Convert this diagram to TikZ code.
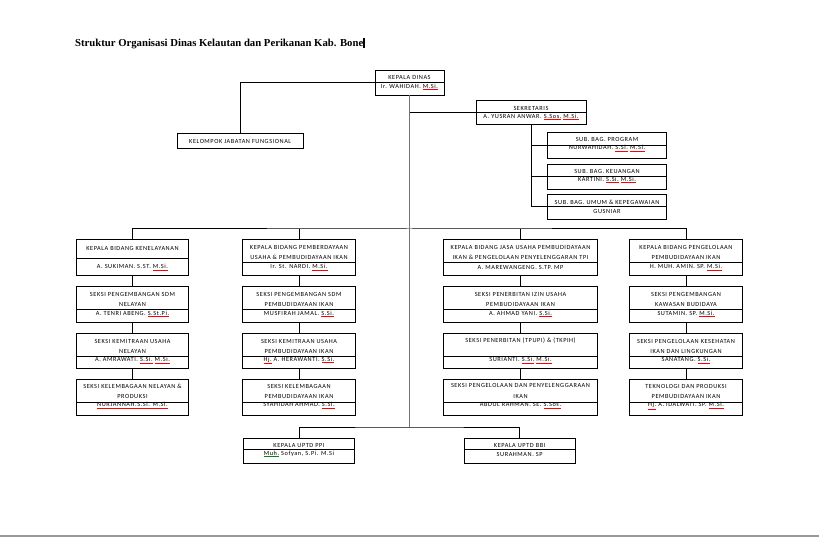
\documentclass[tikz,border=0pt]{standalone}
\usepackage{fontspec}
\usepackage{tikz}
\setmainfont{Liberation Serif}
\newfontfamily\boxfamily[LetterSpace=9]{Carlito}
\newcommand{\boxfont}{\boxfamily\fontsize{6.3}{10.5}\selectfont}
\newcommand{\spl}[2][red]{\textcolor{#1}{\underline{\textcolor{black}{#2}}}}

\begin{document}
\begin{tikzpicture}[x=1pt, y=-1pt,
  box/.style={draw, line width=1pt, inner sep=0pt, outer sep=0pt, anchor=north west},
  txt/.style={font=\boxfont, align=center, inner sep=0pt},
  link/.style={line width=1pt},
  trunk/.style={line width=1pt, draw=black!55}]

  \useasboundingbox (0,0) rectangle (819,537);
  \fill[black!40] (0,534.5) rectangle (819,537);

  % Title
  \node[anchor=base west, inner sep=0pt, font=\bfseries\fontsize{10.7}{13}\selectfont] (title) at (75,47)
    {Struktur Organisasi Dinas Kelautan dan Perikanan Kab. Bone\rule[-1.5pt]{1.3pt}{10pt}};

  % Kepala dinas, kelompok and sekretaris
  \node[box, minimum width=69pt, minimum height=24.6pt] (kd) at (375,70.7) {};
  \node[txt] (kdt) at (kd.north |- 0,77.3) {KEPALA DINAS};
  \node[txt] (kdn) at (kd.north |- 0,87) {Ir. WAHIDAH. \spl{M.Si.}};
  \draw[link] (kd.west |- 0,82.3) -- (kd.east |- 0,82.3);

  \node[box, minimum width=126.3pt, minimum height=15.7pt] (kjf) at (177,133.3) {};
  \node[txt] (kjft) at (kjf.center) {KELOMPOK JABATAN FUNGSIONAL};

  \node[box, minimum width=110pt, minimum height=24.3pt] (sek) at (476,100.7) {};
  \node[txt] (sekt) at (sek.north |- 0,108.3) {SEKRETARIS};
  \node[txt] (sekn) at (sek.north |- 0,117) {A. YUSRAN ANWAR. \spl{S.Sos.} \spl{M.Si.}};
  \draw[link] (sek.west |- 0,112.5) -- (sek.east |- 0,112.5);

  % Sub bagian
  \node[box, minimum width=119.4pt, minimum height=25.6pt] (sb1) at (547.3,132.7) {};
  \node[txt] (sb1t) at (sb1.north |- 0,139.3) {SUB. BAG. PROGRAM};
  \node[txt] (sb1n) at (sb1.north |- 0,148.3) {NURWAHIDAH. \spl{S.Si.} \spl{M.Si.}};
  \draw[link] (sb1.west |- 0,145.7) -- (sb1.east |- 0,145.7);

  \node[box, minimum width=119.4pt, minimum height=25pt] (sb2) at (547.3,164.3) {};
  \node[txt] (sb2t) at (sb2.north |- 0,171.7) {SUB. BAG. KEUANGAN};
  \node[txt] (sb2n) at (sb2.north |- 0,180) {KARTINI. \spl{S.Si.} \spl{M.Si.}};
  \draw[link] (sb2.west |- 0,176.3) -- (sb2.east |- 0,176.3);

  \node[box, minimum width=119.4pt, minimum height=25.2pt] (sb3) at (547.3,194.3) {};
  \node[txt] (sb3t) at (sb3.north |- 0,202.7) {SUB. BAG. UMUM \& KEPEGAWAIAN};
  \node[txt] (sb3n) at (sb3.north |- 0,211.7) {GUSNIAR};
  \draw[link] (sb3.west |- 0,206.7) -- (sb3.east |- 0,206.7);

  % Bidang kenelayanan
  \node[box, minimum width=112pt, minimum height=35.5pt] (a1) at (76.5,240) {};
  \node[txt] (a1t) at (a1.north |- 0,248.3) {KEPALA BIDANG KENELAYANAN};
  \node[txt] (a1n) at (a1.north |- 0,267.7) {A. SUKIMAN. S.ST. \spl{M.Si.}};
  \draw[link] (a1.west |- 0,259) -- (a1.east |- 0,259);

  \node[box, minimum width=112pt, minimum height=35pt] (a2) at (76.5,287) {};
  \node[txt] (a2t) at (a2.north |- 0,299.5) {SEKSI PENGEMBANGAN SDM\\NELAYAN};
  \node[txt] (a2n) at (a2.north |- 0,314) {A. TENRI ABENG. \spl{S.St.Pi.}};
  \draw[link] (a2.west |- 0,309.5) -- (a2.east |- 0,309.5);

  \node[box, minimum width=112pt, minimum height=35.2pt] (a3) at (76.5,333.3) {};
  \node[txt] (a3t) at (a3.north |- 0,346.3) {SEKSI KEMITRAAN USAHA\\NELAYAN};
  \node[txt] (a3n) at (a3.north |- 0,360.5) {A. AMRAWATI. \spl{S.Si.} \spl{M.Si.}};
  \draw[link] (a3.west |- 0,356) -- (a3.east |- 0,356);

  \node[box, minimum width=112pt, minimum height=36pt] (a4) at (76.5,379) {};
  \node[txt] (a4t) at (a4.north |- 0,391.3) {SEKSI KELEMBAGAAN NELAYAN \&\\PRODUKSI};
  \node[txt] (a4n) at (a4.north |- 0,405.7) {\spl{NURJANNAH.S.Si. M.Si.}};
  \draw[link] (a4.west |- 0,402.7) -- (a4.east |- 0,402.7);

  % Bidang pemberdayaan usaha
  \node[box, minimum width=113.4pt, minimum height=35.5pt] (b1) at (242.3,240) {};
  \node[txt] (b1t) at (b1.north |- 0,252.3) {KEPALA BIDANG PEMBERDAYAAN\\USAHA \& PEMBUDIDAYAAN IKAN};
  \node[txt] (b1n) at (b1.north |- 0,267.3) {Ir. St. NARDI. \spl{M.Si.}};
  \draw[link] (b1.west |- 0,262.3) -- (b1.east |- 0,262.3);

  \node[box, minimum width=113.4pt, minimum height=35pt] (b2) at (242.3,287) {};
  \node[txt] (b2t) at (b2.north |- 0,299.5) {SEKSI PENGEMBANGAN SDM\\PEMBUDIDAYAAN IKAN};
  \node[txt] (b2n) at (b2.north |- 0,314) {MUSFIRAH JAMAL. \spl{S.Si.}};
  \draw[link] (b2.west |- 0,309.5) -- (b2.east |- 0,309.5);

  \node[box, minimum width=113.4pt, minimum height=35.2pt] (b3) at (242.3,333.3) {};
  \node[txt] (b3t) at (b3.north |- 0,346.3) {SEKSI KEMITRAAN USAHA\\PEMBUDIDAYAAN IKAN};
  \node[txt] (b3n) at (b3.north |- 0,360.5) {\spl{Hj.} A. HERAWANTI. \spl{S.Si.}};
  \draw[link] (b3.west |- 0,356) -- (b3.east |- 0,356);

  \node[box, minimum width=113.4pt, minimum height=36pt] (b4) at (242.3,379) {};
  \node[txt] (b4t) at (b4.north |- 0,391.3) {SEKSI KELEMBAGAAN\\PEMBUDIDAYAAN IKAN};
  \node[txt] (b4n) at (b4.north |- 0,405.7) {SYAHIDAH AHMAD. \spl{S.Si.}};
  \draw[link] (b4.west |- 0,402.7) -- (b4.east |- 0,402.7);

  % Bidang jasa usaha
  \node[box, minimum width=154pt, minimum height=35.5pt] (c1) at (443.5,240) {};
  \node[txt] (c1t) at (c1.north |- 0,252.3) {KEPALA BIDANG JASA USAHA PEMBUDIDAYAAN\\IKAN \& PENGELOLAAN PENYELENGGARAN TPI};
  \node[txt] (c1n) at (c1.north |- 0,267.3) {A. MAREWANGENG. S.TP. MP};
  \draw[link] (c1.west |- 0,262.3) -- (c1.east |- 0,262.3);

  \node[box, minimum width=154pt, minimum height=35pt] (c2) at (443.5,287) {};
  \node[txt] (c2t) at (c2.north |- 0,299.5) {SEKSI PENERBITAN IZIN USAHA\\PEMBUDIDAYAAN IKAN};
  \node[txt] (c2n) at (c2.north |- 0,314) {A. AHMAD YANI. \spl{S.Si.}};
  \draw[link] (c2.west |- 0,309) -- (c2.east |- 0,309);

  \node[box, minimum width=154pt, minimum height=35.2pt] (c3) at (443.5,333.3) {};
  \node[txt] (c3t) at (c3.north |- 0,341) {SEKSI PENERBITAN (TPUPI) \& (TKPIH)};
  \node[txt] (c3n) at (c3.north |- 0,360.5) {SURIANTI. \spl{S.Si.} \spl{M.Si.}};
  \draw[link] (c3.west |- 0,356.5) -- (c3.east |- 0,356.5);

  \node[box, minimum width=154pt, minimum height=36pt] (c4) at (443.5,379) {};
  \node[txt] (c4t) at (c4.north |- 0,391) {SEKSI PENGELOLAAN DAN PENYELENGGARAAN\\IKAN};
  \node[txt] (c4n) at (c4.north |- 0,405.7) {ABDUL RAHMAN. SE. \spl{S.Sos.}};
  \draw[link] (c4.west |- 0,402.3) -- (c4.east |- 0,402.3);

  % Bidang pengelolaan pembudidayaan
  \node[box, minimum width=113.4pt, minimum height=35.5pt] (d1) at (629.3,240) {};
  \node[txt] (d1t) at (d1.north |- 0,252.3) {KEPALA BIDANG PENGELOLAAN\\PEMBUDIDAYAAN IKAN};
  \node[txt] (d1n) at (d1.north |- 0,267.3) {H. MUH. AMIN. SP. \spl{M.Si.}};
  \draw[link] (d1.west |- 0,262.3) -- (d1.east |- 0,262.3);

  \node[box, minimum width=113.4pt, minimum height=35pt] (d2) at (629.3,287) {};
  \node[txt] (d2t) at (d2.north |- 0,299.5) {SEKSI PENGEMBANGAN\\KAWASAN BUDIDAYA};
  \node[txt] (d2n) at (d2.north |- 0,314) {SUTAMIN. SP. \spl{M.Si.}};
  \draw[link] (d2.west |- 0,309) -- (d2.east |- 0,309);

  \node[box, minimum width=113.4pt, minimum height=35.2pt] (d3) at (629.3,333.3) {};
  \node[txt] (d3t) at (d3.north |- 0,346.3) {SEKSI PENGELOLAAN KESEHATAN\\IKAN DAN LINGKUNGAN};
  \node[txt] (d3n) at (d3.north |- 0,360.5) {SANATANG. \spl{S.Si.}};
  \draw[link] (d3.west |- 0,356) -- (d3.east |- 0,356);

  \node[box, minimum width=113.4pt, minimum height=36pt] (d4) at (629.3,379) {};
  \node[txt] (d4t) at (d4.north |- 0,391.3) {TEKNOLOGI DAN PRODUKSI\\PEMBUDIDAYAAN IKAN};
  \node[txt] (d4n) at (d4.north |- 0,405.7) {\spl{Hj.} A. IDALWATI. SP. \spl{M.Si.}};
  \draw[link] (d4.west |- 0,402.7) -- (d4.east |- 0,402.7);

  % UPTD
  \node[box, minimum width=111.4pt, minimum height=25pt] (ppi) at (243.3,438.3) {};
  \node[txt] (ppit) at (ppi.north |- 0,445) {KEPALA UPTD PPI};
  \node[txt] (ppin) at (ppi.north |- 0,454) {\spl[green!55!black]{Muh.} Sofyan, S.Pi. M.Si};
  \draw[link] (ppi.west |- 0,449.7) -- (ppi.east |- 0,449.7);

  \node[box, minimum width=110.7pt, minimum height=25pt] (bbi) at (464.3,438.3) {};
  \node[txt] (bbit) at (bbi.north |- 0,445) {KEPALA UPTD BBI};
  \node[txt] (bbin) at (bbi.north |- 0,454) {SURAHMAN. SP};
  \draw[link] (bbi.west |- 0,449.7) -- (bbi.east |- 0,449.7);

  % Junctions on the trunk
  \coordinate (mid) at (kd.south |- 0,229);
  \coordinate (bot) at (kd.south |- 0,427);

  % Connectors
  \draw[link] (kd.west) -| (kjf.north);
  \draw[link] (sek.west) -- (sek.west -| kd.south);
  \draw[link] (sek.south) |- (sb3.west);
  \draw[link] (sb1.west) -- (sb1.west -| sek.south);
  \draw[link] (sb2.west) -- (sb2.west -| sek.south);

  \draw[link] (a1.north) |- (mid) -| (d1.north);
  \draw[link] (b1.north) -- (b1.north |- mid);
  \draw[link] (c1.north) -- (c1.north |- mid);

  \draw[link] (a1.south) -- (a2.north) (a2.south) -- (a3.north) (a3.south) -- (a4.north);
  \draw[link] (b1.south) -- (b2.north) (b2.south) -- (b3.north) (b3.south) -- (b4.north);
  \draw[link] (c1.south) -- (c2.north) (c2.south) -- (c3.north) (c3.south) -- (c4.north);
  \draw[link] (d1.south) -- (d2.north) (d2.south) -- (d3.north) (d3.south) -- (d4.north);

  \draw[link] (ppi.north) |- (bot) -| (bbi.north);
  \draw[trunk] (kd.south) -- (bot);
\end{tikzpicture}
\end{document}
